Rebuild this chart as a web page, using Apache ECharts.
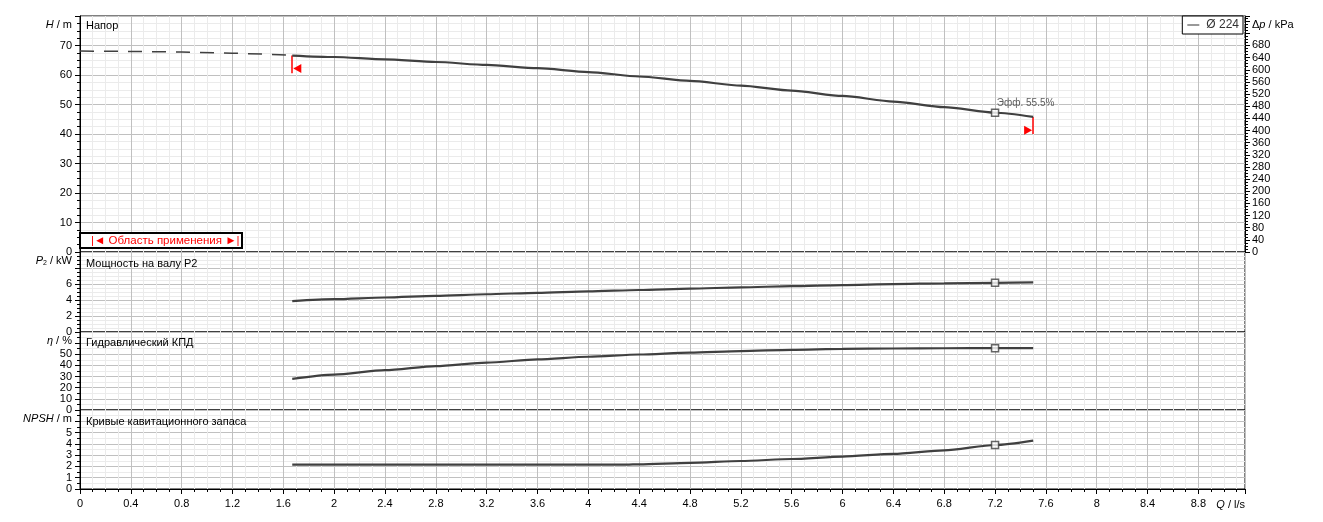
<!DOCTYPE html>
<html>
<head>
<meta charset="utf-8">
<title>Pump curves</title>
<script src="https://cdn.jsdelivr.net/npm/echarts@6/dist/echarts.min.js"></script>
<style>
  * { margin: 0; padding: 0; }
  #chart { width: 1323px; height: 522px; background: #fff; }
</style>
</head>
<body>
<div id="chart"></div>
<script>
// flow Q, l/s (working range of the pump)
var qPoints = [1.67, 2.0, 2.4, 2.8, 3.2, 3.6, 4.0, 4.4, 4.8, 5.2, 5.6, 6.0, 6.4, 6.8, 7.2, 7.5];
// head H, m
var headH = [66.6, 66.1, 65.3, 64.4, 63.4, 62.3, 61.0, 59.5, 58.0, 56.4, 54.7, 52.9, 51.0, 49.1, 47.2, 45.8];
// shaft power P2, kW
var powerP2 = [3.87, 4.10, 4.31, 4.52, 4.72, 4.90, 5.08, 5.25, 5.42, 5.58, 5.73, 5.87, 5.99, 6.08, 6.15, 6.2];
// hydraulic efficiency, %
var effEta = [27.9, 31.8, 35.8, 39.4, 42.6, 45.4, 47.8, 49.8, 51.5, 52.9, 54.0, 54.8, 55.2, 55.4, 55.5, 55.5];
// NPSH curve
var npshQ = [1.67, 4.3, 4.4, 4.8, 5.2, 5.6, 6.0, 6.4, 6.8, 7.2, 7.5];
var npshM = [2.16, 2.16, 2.19, 2.32, 2.48, 2.66, 2.87, 3.12, 3.43, 3.9, 4.29];
// head outside of the working range (dashed)
var dashQ = [0, 0.4, 0.8, 1.2, 1.57, 1.67];
var dashH = [68.1, 68.0, 67.8, 67.4, 66.9, 66.6];
// duty point
var dutyQ = 7.2;
var dutyVals = { H: 47.2, P2: 6.15, eta: 55.5, npsh: 3.9 };
var dutyLabel = 'Эфф. 55.5%';
// application range limits
var rangeQ = [1.67, 7.5];
var rangeLineH = [[66.6, 60.6], [45.8, 40.0]];
var rangeArrowQ = [1.71, 7.46];
var rangeArrowH = [62.2, 41.3];

var seriesName = 'Ø 224';
var panelTitles = ['Напор', 'Мощность на валу P2', 'Гидравлический КПД', 'Кривые кавитационного запаса'];
var qMax = 33 / 3.6;

function pairs(xs, ys) {
    return xs.map(function (x, i) { return [x, ys[i]]; });
}

var FONT = 'Liberation Sans';
var curveColor = '#404040';
var majorGrid = '#c0c0c0';
var minorGrid = '#ebebeb';

var grids = [
    { left: 80, right: 78, top: 16, height: 236 },
    { left: 80, right: 78, top: 252, height: 80 },
    { left: 80, right: 78, top: 332, height: 78 },
    { left: 80, right: 78, top: 410, height: 79 }
].map(function (g) {
    g.show = true;
    g.borderColor = '#000';
    g.borderWidth = 1;
    return g;
});

function makeXAxis(idx) {
    var last = idx === 3;
    return {
        type: 'value', gridIndex: idx, min: 0, max: qMax, interval: 0.4,
        axisLine: { show: last, lineStyle: { color: '#000' } },
        axisTick: { show: last, length: 5, lineStyle: { color: '#000' } },
        minorTick: { show: last, splitNumber: 4, length: 3, lineStyle: { color: '#000' } },
        axisLabel: {
            show: last, showMaxLabel: false, color: '#000', fontFamily: FONT, fontSize: 11, margin: 9,
            formatter: function (v) { return v > 9 ? '' : String(Number(v.toFixed(1))); }
        },
        splitLine: { show: true, lineStyle: { color: majorGrid } },
        minorSplitLine: { show: true, lineStyle: { color: minorGrid } },
        name: last ? '{i|Q} / l/s' : '',
        nameLocation: 'end',
        nameGap: 0,
        nameTextStyle: {
            align: 'right', verticalAlign: 'top', padding: [10, 0, 0, 0],
            color: '#000', fontFamily: FONT, fontSize: 11,
            rich: { i: { fontStyle: 'italic', fontFamily: FONT, fontSize: 11 } }
        }
    };
}

function makeYAxis(idx, max, interval, minorSplit, labelMax, name) {
    return {
        type: 'value', gridIndex: idx, min: 0, max: max, interval: interval,
        axisLine: { show: true, lineStyle: { color: '#000' } },
        axisTick: { show: true, length: 5, lineStyle: { color: '#000' } },
        minorTick: { show: true, splitNumber: minorSplit, length: 3, lineStyle: { color: '#000' } },
        axisLabel: {
            color: '#000', fontFamily: FONT, fontSize: 11, margin: 8,
            formatter: function (v) { return v > labelMax ? '' : String(v); }
        },
        splitLine: { show: true, lineStyle: { color: majorGrid } },
        minorSplitLine: { show: true, lineStyle: { color: minorGrid } },
        name: name,
        nameLocation: 'end',
        nameGap: -9,
        nameTextStyle: {
            align: 'right', verticalAlign: 'middle', padding: [0, 8, 0, 0],
            color: '#000', fontFamily: FONT, fontSize: 11,
            rich: {
                i: { fontStyle: 'italic', fontFamily: FONT, fontSize: 11 },
                s: { fontFamily: FONT, fontSize: 7, padding: [5, 0, 0, 0] }
            }
        }
    };
}

var yAxes = [
    makeYAxis(0, 80, 10, 4, 70, '{i|H} / m'),
    {
        type: 'value', gridIndex: 0, position: 'right', min: 0, max: 777, interval: 40,
        axisLine: { show: true, lineStyle: { color: '#000' } },
        axisTick: { show: true, length: 5, lineStyle: { color: '#000' } },
        minorTick: { show: true, splitNumber: 4, length: 3, lineStyle: { color: '#000' } },
        axisLabel: {
            color: '#000', fontFamily: FONT, fontSize: 11, margin: 7,
            formatter: function (v) { return v > 680 ? '' : String(v); }
        },
        splitLine: { show: false },
        name: 'Δ{i|p} / kPa',
        nameLocation: 'end',
        nameGap: -9,
        nameTextStyle: {
            align: 'left', verticalAlign: 'middle', padding: [0, 0, 0, 7],
            color: '#000', fontFamily: FONT, fontSize: 11,
            rich: { i: { fontStyle: 'italic', fontFamily: FONT, fontSize: 11 } }
        }
    },
    makeYAxis(1, 10, 2, 4, 6, '{i|P}{s|2} / kW'),
    makeYAxis(2, 70, 10, 2, 50, '{i|η} / %'),
    makeYAxis(3, 7, 1, 2, 5, '{i|NPSH} / m')
];

function curve(xIdx, yIdx, data, name) {
    return {
        name: name, type: 'line', xAxisIndex: xIdx, yAxisIndex: yIdx,
        data: data, smooth: 0.25, smoothMonotone: 'x', symbol: 'none',
        lineStyle: { color: curveColor, width: 2.2 }, itemStyle: { color: curveColor },
        z: 5, silent: true
    };
}

function dutyPoint(xIdx, yIdx, val, label) {
    return {
        type: 'scatter', xAxisIndex: xIdx, yAxisIndex: yIdx,
        data: [[dutyQ, val]], symbol: 'rect', symbolSize: 7,
        itemStyle: { color: '#fff', borderColor: curveColor, borderWidth: 1.5 },
        label: label ? {
            show: true, position: [6, -10], formatter: label,
            color: '#333', fontFamily: FONT, fontSize: 10
        } : { show: false },
        z: 6, silent: true
    };
}

var headSeries = curve(0, 0, pairs(qPoints, headH), seriesName);
headSeries.markLine = {
    silent: true, symbol: 'none',
    lineStyle: { color: '#ff0000', width: 1.5, type: 'solid' },
    label: { show: false },
    data: rangeQ.map(function (q, i) {
        return [{ coord: [q, rangeLineH[i][0]] }, { coord: [q, rangeLineH[i][1]] }];
    })
};
headSeries.markPoint = {
    silent: true, symbol: 'triangle', symbolSize: [9, 8],
    itemStyle: { color: '#ff0000' }, label: { show: false },
    data: [
        { coord: [rangeArrowQ[0], rangeArrowH[0]], symbolRotate: 90 },
        { coord: [rangeArrowQ[1], rangeArrowH[1]], symbolRotate: -90 }
    ]
};

var dashSeries = curve(0, 0, pairs(dashQ, dashH), 'dash');
dashSeries.smooth = false;
dashSeries.lineStyle = { color: curveColor, width: 1.5, type: [14, 10] };

var titleStyle = { color: '#000', fontFamily: FONT, fontSize: 11, fontWeight: 'normal' };
var titleTops = [20, 258, 337, 416];

var option = {
    animation: false,
    backgroundColor: '#fff',
    grid: grids,
    xAxis: [0, 1, 2, 3].map(makeXAxis),
    yAxis: yAxes,
    title: panelTitles.map(function (t, i) {
        return { text: t, left: 86, top: titleTops[i], padding: 0, textStyle: titleStyle };
    }).concat([{
        text: '|◄ Область применения ►|',
        left: 80, top: 233, padding: [2, 3, 1, 11],
        borderColor: '#000', borderWidth: 2, backgroundColor: '#fff',
        textStyle: { color: '#ff0000', fontFamily: FONT, fontSize: 11.5, fontWeight: 'normal' }
    }]),
    legend: {
        data: [{ name: seriesName, icon: 'rect' }],
        right: 80, top: 16,
        backgroundColor: '#fff', borderColor: '#000', borderWidth: 1,
        padding: [3, 4, 3, 5], itemWidth: 12, itemHeight: 1, itemGap: 4,
        itemStyle: { color: '#333' },
        textStyle: { color: '#333', fontFamily: FONT, fontSize: 12, padding: [0, 0, 0, 2] },
        selectedMode: false
    },
    series: [
        dashSeries,
        headSeries,
        dutyPoint(0, 0, dutyVals.H, dutyLabel),
        curve(1, 2, pairs(qPoints, powerP2), 'P2'),
        dutyPoint(1, 2, dutyVals.P2),
        curve(2, 3, pairs(qPoints, effEta), 'eta'),
        dutyPoint(2, 3, dutyVals.eta),
        curve(3, 4, pairs(npshQ, npshM), 'npsh'),
        dutyPoint(3, 4, dutyVals.npsh)
    ]
};

var myChart = echarts.init(document.getElementById('chart'), null, { renderer: 'canvas' });
myChart.setOption(option);
</script>
</body>
</html>
